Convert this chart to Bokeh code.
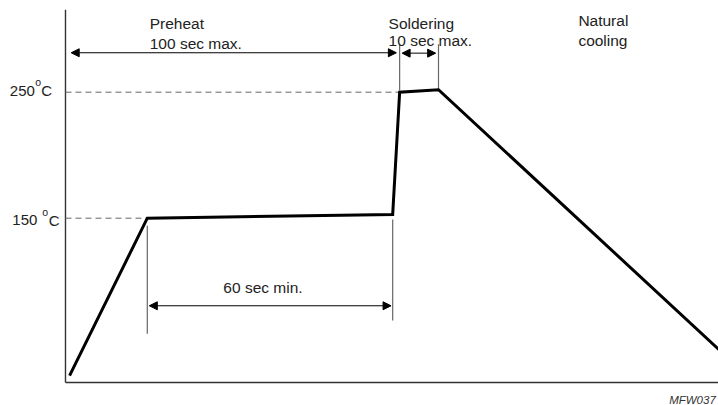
from bokeh.plotting import figure
from bokeh.models import Range1d, Arrow, NormalHead, ColumnDataSource
from bokeh.core.properties import value
from bokeh.embed import file_html
from bokeh.resources import INLINE

# ---- data (time in s, temperature in °C) ----
profile_time = [1, 20, 80, 81.7, 91.2, 160]
profile_temp = [25, 150, 153, 250, 252, 45]

axis_time_start = 0
axis_time_end = 160
axis_temp_floor = 19.6
axis_temp_top = 315.4

level_temps = [150, 250]
level_end_times = [20, 81.7]

marker_times = [20, 80, 81.7, 91.2]
marker_tops = [144, 149, 288.4, 288.1]
marker_bottoms = [58.3, 68.8, 251.4, 252.7]

arrow_starts = [1.4, 82.3, 20.5]
arrow_ends = [80.9, 90.5, 79.6]
arrow_temps = [281.3, 281.0, 80.5]

note_texts = ["Preheat", "100 sec max.", "Soldering", "10 sec max.", "Natural", "cooling", "60 sec min."]
note_times = [20.6, 20.6, 79.0, 79.0, 125.4, 125.4, 38.6]
note_temps = [304.3, 288.4, 304.3, 291.2, 306.7, 291.0, 95.2]

tick_numbers = ["250", "150"]
tick_num_times = [-13.6, -13.0]
tick_num_temps = [251.3, 148.2]
tick_deg_times = [-7.4, -5.7]
tick_deg_temps = [258.3, 154.8]
tick_c_times = [-5.9, -4.1]
tick_c_temps = [251.3, 148.2]

code_text = ["MFW037"]
code_time = [159.0]
code_temp = [6.0]

FONT = value("Liberation Sans")

p = figure(width=718, height=405, output_backend="svg", toolbar_location=None,
           x_range=Range1d(-15.89, 159.66), y_range=Range1d(1.35, 322.78),
           x_axis_location=None, y_axis_location=None, min_border=0,
           outline_line_color=None, background_fill_color="white",
           border_fill_color="white")
p.grid.visible = False

# axes lines
p.segment(x0=[axis_time_start, axis_time_start], y0=[axis_temp_floor, axis_temp_floor],
          x1=[axis_time_start, axis_time_end], y1=[axis_temp_top, axis_temp_floor],
          line_color="#333333", line_width=1.4)

# dashed reference levels
p.segment(x0=[axis_time_start] * len(level_temps), y0=level_temps,
          x1=level_end_times, y1=level_temps,
          line_color="#666666", line_width=1, line_dash="6 4")

# vertical markers
p.segment(x0=marker_times, y0=marker_bottoms, x1=marker_times, y1=marker_tops,
          line_color="#666666", line_width=1.2)

# profile
p.line(profile_time, profile_temp, line_color="black", line_width=3, line_join="miter")

# double arrows
src = ColumnDataSource(dict(x0=arrow_starts, x1=arrow_ends, y=arrow_temps))
p.add_layout(Arrow(start=NormalHead(size=8, fill_color="black", line_color="black"),
                   end=NormalHead(size=8, fill_color="black", line_color="black"),
                   x_start="x0", y_start="y", x_end="x1", y_end="y",
                   line_color="black", line_width=1, source=src))

# notes
p.text(x=note_times, y=note_temps, text=note_texts, text_font=FONT,
       text_font_size="15.5px", text_color="#222222", text_baseline="alphabetic",
       text_align="left")

# temperature labels
p.text(x=tick_num_times, y=tick_num_temps, text=tick_numbers, text_font=FONT,
       text_font_size="15px", text_color="#222222", text_baseline="alphabetic")
p.text(x=tick_deg_times, y=tick_deg_temps, text=["o", "o"], text_font=FONT,
       text_font_size="10.5px", text_color="#222222", text_baseline="alphabetic")
p.text(x=tick_c_times, y=tick_c_temps, text=["C", "C"], text_font=FONT,
       text_font_size="15px", text_color="#222222", text_baseline="alphabetic")

# figure code
p.text(x=code_time, y=code_temp, text=code_text, text_font=FONT,
       text_font_size="11.5px", text_font_style="italic", text_color="#333333",
       text_baseline="alphabetic", text_align="right")

open("out.html", "w").write(file_html(p, INLINE))
